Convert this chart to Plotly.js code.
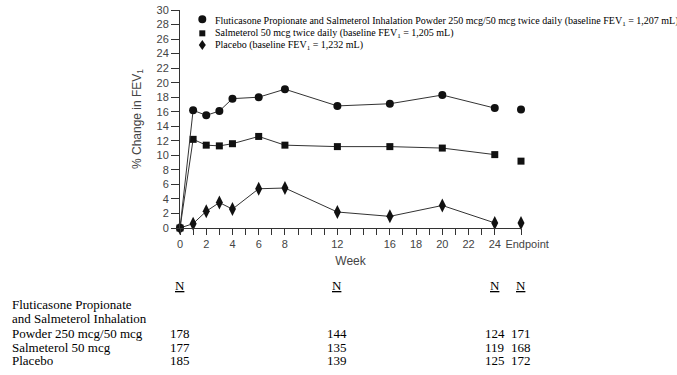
<!DOCTYPE html>
<html>
<head>
<meta charset="utf-8">
<script src="https://cdn.plot.ly/plotly-3.0.1.min.js"></script>
<style>html,body{margin:0;padding:0;background:#fff;}#chart{width:677px;height:375px;}</style>
</head>
<body>
<div id="chart"></div>
<script>
// ---- data ----
const weeks = [0, 1, 2, 3, 4, 6, 8, 12, 16, 20, 24];
const endpointX = 26;
const flutVals = [0, 16.2, 15.5, 16.1, 17.8, 18.0, 19.1, 16.8, 17.1, 18.3, 16.5];
const flutEnd = 16.3;
const salmVals = [0, 12.2, 11.4, 11.3, 11.6, 12.6, 11.4, 11.2, 11.2, 11.0, 10.1];
const salmEnd = 9.2;
const placVals = [0, 0.6, 2.3, 3.5, 2.6, 5.4, 5.5, 2.2, 1.6, 3.1, 0.7];
const placEnd = 0.7;

const legendNames = [
  "Fluticasone Propionate and Salmeterol Inhalation Powder 250 mcg/50 mcg twice daily (baseline FEV<sub>1</sub> = 1,207 mL)",
  "Salmeterol 50 mcg twice daily (baseline FEV<sub>1</sub> = 1,205 mL)",
  "Placebo (baseline FEV<sub>1</sub> = 1,232 mL)"
];

const tickVals = [0,1,2,3,4,5,6,7,8,9,10,11,12,13,14,15,16,17,18,19,20,21,22,23,24,26];
const tickText = ["0"," ","2"," ","4"," ","6"," ","8"," "," "," ","12"," "," "," ","16"," ","18"," ","20"," ","22"," ","24","\u00a0\u00a0\u00a0\u00a0Endpoint"];

const nCols = [0, 12, 24, 26];
const rowLabels = ["Fluticasone Propionate", "and Salmeterol Inhalation", "Powder 250 mcg/50 mcg", "Salmeterol 50 mcg", "Placebo"];
const nFlut = [178, 144, 124, 171];
const nSalm = [177, 135, 119, 168];
const nPlac = [185, 139, 125, 172];

// ---- styles ----
const lineColor = '#333';
const markColor = '#111';
const sansFont = 'Liberation Sans Narrow, Liberation Sans, Arial, sans-serif';
const serifFont = 'Liberation Serif, Times New Roman, serif';

const series = [
  {vals: placVals, end: placEnd, symbol: 'diamond-tall', size: 10},
  {vals: salmVals, end: salmEnd, symbol: 'square', size: 7},
  {vals: flutVals, end: flutEnd, symbol: 'circle', size: 8}
];

const traces = [];
series.forEach((s, i) => {
  traces.push({
    x: weeks, y: s.vals, mode: 'lines+markers', type: 'scatter',
    name: legendNames[2 - i], showlegend: false, cliponaxis: false,
    line: {color: lineColor, width: 1},
    marker: {symbol: s.symbol, size: s.size, color: markColor}
  });
  traces.push({
    x: [endpointX], y: [s.end], mode: 'markers', type: 'scatter',
    showlegend: false, cliponaxis: false,
    marker: {symbol: s.symbol, size: s.size, color: markColor}
  });
});

// legend (manual, compact rows)
const legY = [28.72, 26.79, 25.18];
const legX = 1.7;
const shapes = [
  {type: 'circle', xref: 'x', yref: 'y', xsizemode: 'pixel', ysizemode: 'pixel',
   xanchor: legX, yanchor: legY[0], x0: -4, x1: 4, y0: -4, y1: 4,
   fillcolor: markColor, line: {width: 0}},
  {type: 'rect', xref: 'x', yref: 'y', xsizemode: 'pixel', ysizemode: 'pixel',
   xanchor: legX, yanchor: legY[1], x0: -3, x1: 3, y0: -3, y1: 3,
   fillcolor: markColor, line: {width: 0}},
  {type: 'path', xref: 'x', yref: 'y', xsizemode: 'pixel', ysizemode: 'pixel',
   xanchor: legX, yanchor: legY[2], path: 'M0,5 L3.5,0 L0,-5 L-3.5,0 Z',
   fillcolor: markColor, line: {width: 0}}
];

const annotations = [];
const legTextY = [28.35, 26.70, 25.18];
legendNames.forEach((t, i) => {
  annotations.push({
    xref: 'x', yref: 'y', x: 2.49, y: legTextY[i], xanchor: 'left', yanchor: 'middle',
    text: t, showarrow: false, font: {family: serifFont, size: 10, color: '#000'}
  });
});

// N table below the chart
const tblFont = {family: serifFont, size: 13, color: '#000'};
const rowY = [-0.349, -0.413, -0.482, -0.546, -0.610];
rowLabels.forEach((t, i) => {
  annotations.push({
    xref: 'paper', yref: 'paper', x: -0.4985, y: rowY[i], xanchor: 'left', yanchor: 'middle',
    text: t, showarrow: false, font: tblFont
  });
});
const nRows = [nFlut, nSalm, nPlac];
nCols.forEach((cx, j) => {
  annotations.push({
    xref: 'x', yref: 'paper', x: cx, y: -0.2615, xanchor: 'center', yanchor: 'middle',
    text: '<u>N</u>', showarrow: false, font: tblFont
  });
  nRows.forEach((row, r) => {
    annotations.push({
      xref: 'x', yref: 'paper', x: cx, y: rowY[2 + r], xanchor: 'center', yanchor: 'middle',
      text: String(row[j]), showarrow: false, font: tblFont
    });
  });
});

const layout = {
  width: 677, height: 375,
  margin: {l: 180, r: 156, t: 10, b: 147},
  paper_bgcolor: '#fff', plot_bgcolor: '#fff',
  showlegend: false,
  xaxis: {
    range: [0, 26], showgrid: false, zeroline: false,
    showline: true, linecolor: lineColor, linewidth: 1,
    ticks: 'outside', ticklen: 6, tickcolor: lineColor, tickwidth: 1,
    tickvals: tickVals, ticktext: tickText, tickangle: 0,
    tickfont: {family: sansFont, size: 11, color: '#444'},
    title: {text: 'Week', font: {family: sansFont, size: 12, color: '#444'}, standoff: 7}
  },
  yaxis: {
    range: [0, 30], dtick: 2, showgrid: false, zeroline: false,
    showline: true, linecolor: lineColor, linewidth: 1,
    ticks: 'outside', ticklen: 8, tickcolor: lineColor, tickwidth: 1,
    tickfont: {family: sansFont, size: 11, color: '#444'},
    title: {text: '% Change in FEV<sub>1</sub>', font: {family: sansFont, size: 12, color: '#444'}, standoff: 12}
  },
  shapes: shapes,
  annotations: annotations
};

Plotly.newPlot('chart', traces, layout, {displayModeBar: false, staticPlot: true});
</script>
</body>
</html>
